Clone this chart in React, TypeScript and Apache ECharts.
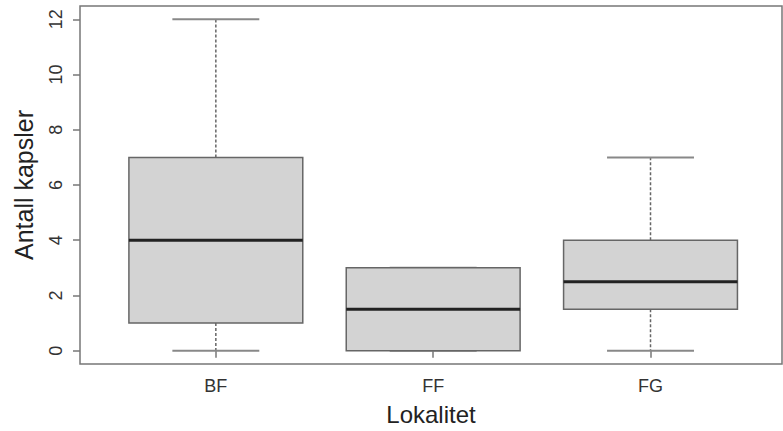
import React, { useEffect, useRef } from "react";
import * as echarts from "echarts";

const categories = ["BF", "FF", "FG"];
const positions = [1, 2, 3];
const mins = [0, 0, 0];
const q1s = [1, 0, 1.5];
const medians = [4, 1.5, 2.5];
const q3s = [7, 3, 4];
const maxs = [12, 3, 7];
const yTicks = [0, 2, 4, 6, 8, 10, 12];
const yTitle = "Antall kapsler";
const xTitle = "Lokalitet";

const FONT = "Liberation Sans, Arial, sans-serif";

export default function App() {
  const ref = useRef<HTMLDivElement>(null);
  useEffect(() => {
    if (!ref.current) return;
    const chart = echarts.init(ref.current, undefined, { renderer: "svg" });
    const data = positions.map((p, i) => [p, mins[i], q1s[i], medians[i], q3s[i], maxs[i]]);
    chart.setOption({
      animation: false,
      backgroundColor: "#ffffff",
      grid: {
        left: 80,
        right: 1,
        top: 6,
        bottom: 65,
        show: true,
        borderColor: "#777777",
        borderWidth: 1.5,
        backgroundColor: "transparent",
      },
      xAxis: {
        type: "value",
        min: 0.375,
        max: 3.605,
        name: xTitle,
        nameLocation: "middle",
        nameGap: 38,
        nameTextStyle: { fontFamily: FONT, fontSize: 24, color: "#222" },
        axisLine: { show: false },
        splitLine: { show: false },
        axisTick: {
          show: true,
          length: 7,
          customValues: positions,
          lineStyle: { color: "#777", width: 1.5 },
        },
        axisLabel: {
          customValues: positions,
          margin: 13,
          fontFamily: FONT,
          fontSize: 18,
          color: "#333",
          formatter: (v: number) => categories[Math.round(v) - 1] ?? "",
        },
      },
      yAxis: {
        type: "value",
        min: -0.48,
        max: 12.48,
        name: yTitle,
        nameLocation: "middle",
        nameGap: 44,
        nameTextStyle: { fontFamily: FONT, fontSize: 25, color: "#222" },
        axisLine: { show: false },
        splitLine: { show: false },
        axisTick: {
          show: true,
          length: 7,
          customValues: yTicks,
          lineStyle: { color: "#777", width: 1.5 },
        },
        axisLabel: {
          customValues: yTicks,
          rotate: 90,
          margin: 15,
          fontFamily: FONT,
          fontSize: 18,
          color: "#333",
        },
      },
      series: [
        {
          type: "custom",
          data,
          encode: { x: 0, y: [1, 2, 3, 4, 5] },
          renderItem: (params: any, api: any) => {
            const x = api.value(0);
            const vMin = api.value(1);
            const vQ1 = api.value(2);
            const vMed = api.value(3);
            const vQ3 = api.value(4);
            const vMax = api.value(5);
            const w = api.size([0.8, 0])[0];
            const c = api.coord([x, 0])[0];
            const yMin = api.coord([x, vMin])[1];
            const yQ1 = api.coord([x, vQ1])[1];
            const yMed = api.coord([x, vMed])[1];
            const yQ3 = api.coord([x, vQ3])[1];
            const yMax = api.coord([x, vMax])[1];
            const whisk = { stroke: "#666", lineWidth: 1.5, lineDash: [3, 2] };
            const cap = { stroke: "#888", lineWidth: 2 };
            return {
              type: "group",
              children: [
                { type: "line", shape: { x1: c, y1: yQ3, x2: c, y2: yMax }, style: whisk },
                { type: "line", shape: { x1: c, y1: yQ1, x2: c, y2: yMin }, style: whisk },
                { type: "line", shape: { x1: c - w / 4, y1: yMax, x2: c + w / 4, y2: yMax }, style: cap },
                { type: "line", shape: { x1: c - w / 4, y1: yMin, x2: c + w / 4, y2: yMin }, style: cap },
                {
                  type: "rect",
                  shape: { x: c - w / 2, y: yQ3, width: w, height: yQ1 - yQ3 },
                  style: { fill: "#d3d3d3", stroke: "#666", lineWidth: 1.5 },
                },
                {
                  type: "line",
                  shape: { x1: c - w / 2, y1: yMed, x2: c + w / 2, y2: yMed },
                  style: { stroke: "#222", lineWidth: 3 },
                },
              ],
            };
          },
        },
      ],
    });
    return () => chart.dispose();
  }, []);
  return (
    <div
      ref={ref}
      style={{ position: "fixed", left: 0, top: 0, width: 783, height: 431 }}
    />
  );
}
